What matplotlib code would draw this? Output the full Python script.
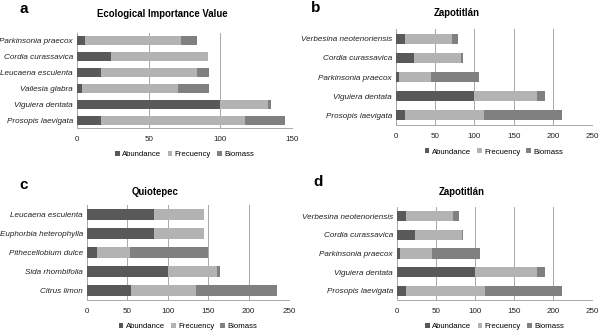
import numpy as np
import matplotlib.pyplot as plt

plt.rcParams['font.family'] = ['Liberation Sans', 'DejaVu Sans']

# especies de arriba hacia abajo
species_a = ["Parkinsonia praecox", "Cordia curassavica", "Leucaena esculenta",
             "Vallesia glabra", "Viguiera dentata", "Prosopis laevigata"]
ab_a = [5.8, 23.9, 16.9, 3.5, 100.0, 16.9]
fr_a = [66.6, 67.3, 67.1, 66.8, 33.4, 100.3]
bio_a = [11.6, 0.0, 8.1, 21.8, 1.9, 28.0]

species_b = ["Verbesina neotenoriensis", "Cordia curassavica", "Parkinsonia praecox",
             "Viguiera dentata", "Prosopis laevigata"]
ab_b = [11.9, 22.5, 4.2, 100.0, 11.0]
fr_b = [60.1, 60.5, 40.3, 80.0, 101.3]
bio_b = [7.2, 2.2, 61.4, 9.8, 99.6]

species_c = ["Leucaena esculenta", "Euphorbia heterophylla", "Pithecellobium dulce",
             "Sida rhombifolia", "Citrus limon"]
ab_c = [83.3, 83.3, 12.5, 100.0, 54.6]
fr_c = [60.9, 60.9, 40.8, 60.8, 80.0]
bio_c = [0.0, 0.0, 95.9, 3.4, 100.8]

species_d = ["Verbesina neotenoriensis", "Cordia curassavica", "Parkinsonia praecox",
             "Viguiera dentata", "Prosopis laevigata"]
ab_d = [11.9, 22.5, 4.2, 100.0, 11.0]
fr_d = [60.1, 60.5, 40.3, 80.0, 101.3]
bio_d = [7.2, 2.2, 61.4, 9.8, 99.6]

series_names = ["Abundance", "Frecuency", "Biomass"]
colores = ["#595959", "#b3b3b3", "#808080"]

W, H = 600, 334
fig = plt.figure(figsize=(6, 3.34), dpi=100)


def panel(rect, letra, pos_letra, titulo, pos_titulo, species, ab, fr, bio, xmax, hbar):
    l, t, r, b = rect
    ax = fig.add_axes([l / W, 1 - b / H, (r - l) / W, (b - t) / H])
    y = np.arange(len(species))
    ab = np.array(ab)
    fr = np.array(fr)
    bio = np.array(bio)
    ax.barh(y, ab, height=hbar, color=colores[0], label=series_names[0], zorder=3)
    ax.barh(y, fr, left=ab, height=hbar, color=colores[1], label=series_names[1], zorder=3)
    ax.barh(y, bio, left=ab + fr, height=hbar, color=colores[2], label=series_names[2], zorder=3)
    ax.set_xlim(0, xmax)
    ax.set_ylim(len(species) - 0.5, -0.5)
    ax.set_xticks(np.arange(0, xmax + 1, 50))
    ax.set_yticks(y)
    ax.set_yticklabels(species, style='italic', fontsize=5.9)
    ax.tick_params(axis='x', labelsize=5.8, length=0, pad=6, colors='#222222')
    ax.tick_params(axis='y', length=0, pad=3, colors='#222222')
    ax.grid(axis='x', color='#a8a8a8', lw=0.7, zorder=0)
    for s in ['top', 'right']:
        ax.spines[s].set_visible(False)
    for s in ['left', 'bottom']:
        ax.spines[s].set_color('#a8a8a8')
        ax.spines[s].set_linewidth(0.7)
    fig.text(pos_titulo[0] / W, 1 - pos_titulo[1] / H, titulo, fontsize=6.9,
             fontweight='bold', ha='center', va='center')
    ax.legend(loc='upper center', bbox_to_anchor=(0.5, -0.17), ncol=3, frameon=False,
              fontsize=5.6, handlelength=0.6, handleheight=0.6, handletextpad=0.3,
              columnspacing=0.8)
    fig.text(pos_letra[0] / W, 1 - pos_letra[1] / H, letra, fontsize=11, fontweight='bold',
             ha='left', va='center')
    return ax


panel((77, 33, 292, 128), "a", (19, 9), "Ecological Importance Value", (162, 14),
      species_a, ab_a, fr_a, bio_a, 150, 0.56)
panel((396, 29, 592, 125), "b", (311, 8), "Zapotitlán", (457, 13),
      species_b, ab_b, fr_b, bio_b, 250, 0.53)
panel((87, 205, 289, 300), "c", (19, 185), "Quiotepec", (155, 192),
      species_c, ab_c, fr_c, bio_c, 250, 0.56)
panel((397, 207, 592, 300), "d", (313, 182), "Zapotitlán", (462, 192),
      species_d, ab_d, fr_d, bio_d, 250, 0.55)

fig.savefig("out.png", dpi=100)
